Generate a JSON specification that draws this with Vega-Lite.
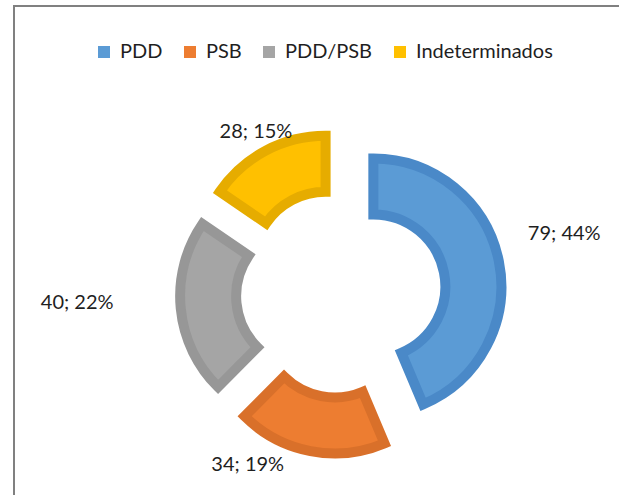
{
  "$schema": "https://vega.github.io/schema/vega-lite/v6.json",
  "width": 654,
  "height": 574,
  "autosize": {"type": "none"},
  "padding": {"left": 14, "top": 6, "right": 0, "bottom": 0},
  "background": "white",
  "view": {"stroke": "#808080", "strokeWidth": 2, "fill": "white"},
  "config": {
    "view": {"stroke": "#808080", "strokeWidth": 2},
    "font": "Lato"
  },
  "data": {
    "values": [
      {"category": "PDD", "value": 79, "label": "79; 44%"},
      {"category": "PSB", "value": 34, "label": "34; 19%"},
      {"category": "PDD/PSB", "value": 40, "label": "40; 22%"},
      {"category": "Indeterminados", "value": 28, "label": "28; 15%"}
    ]
  },
  "transform": [{"window": [{"op": "row_number", "as": "idx"}]}],
  "encoding": {
    "theta": {"field": "value", "type": "quantitative", "stack": true},
    "order": {"field": "idx", "type": "quantitative"}
  },
  "layer": [
    {
      "mark": {
        "type": "arc",
        "radius": 128,
        "radius2": 72,
        "strokeWidth": 10,
        "strokeJoin": "miter",
        "xOffset": {"expr": "33 * sin((scale('theta', datum.value_start) + scale('theta', datum.value_end)) / 2)"},
        "yOffset": {"expr": "-33 * cos((scale('theta', datum.value_start) + scale('theta', datum.value_end)) / 2)"}
      },
      "encoding": {
        "color": {
          "field": "category",
          "type": "nominal",
          "sort": ["PDD", "PSB", "PDD/PSB", "Indeterminados"],
          "scale": {"domain": ["PDD", "PSB", "PDD/PSB", "Indeterminados"], "range": ["#5B9BD5", "#ED7D31", "#A5A5A5", "#FFC000"]},
          "legend": {
            "title": null,
            "orient": "none",
            "legendX": 80,
            "legendY": 36,
            "direction": "horizontal",
            "columns": 4,
            "columnPadding": 17,
            "symbolType": "square",
            "symbolSize": 144,
            "symbolStrokeWidth": 0,
            "labelFont": "Lato",
            "labelFontSize": 20,
            "labelColor": "#1f1f1f",
            "labelOffset": 6
          }
        },
        "stroke": {
          "field": "category",
          "type": "nominal",
          "scale": {"domain": ["PDD", "PSB", "PDD/PSB", "Indeterminados"], "range": ["#4A89C8", "#D9702A", "#979797", "#E6AC00"]},
          "legend": null
        }
      }
    },
    {
      "mark": {
        "type": "text",
        "font": "Lato",
        "fontSize": 20,
        "color": "#1f1f1f",
        "align": "center",
        "baseline": "middle",
        "radius": {"expr": "datum.category === 'PDD' ? 231 : datum.category === 'PSB' ? 196 : datum.category === 'PDD/PSB' ? 264 : 182"},
        "thetaOffset": {"expr": "datum.category === 'PSB' ? 0.305 : datum.category === 'PDD' ? -0.06 : datum.category === 'PDD/PSB' ? 0.058 : 0"}
      },
      "encoding": {
        "text": {"field": "label", "type": "nominal"}
      }
    }
  ]
}
